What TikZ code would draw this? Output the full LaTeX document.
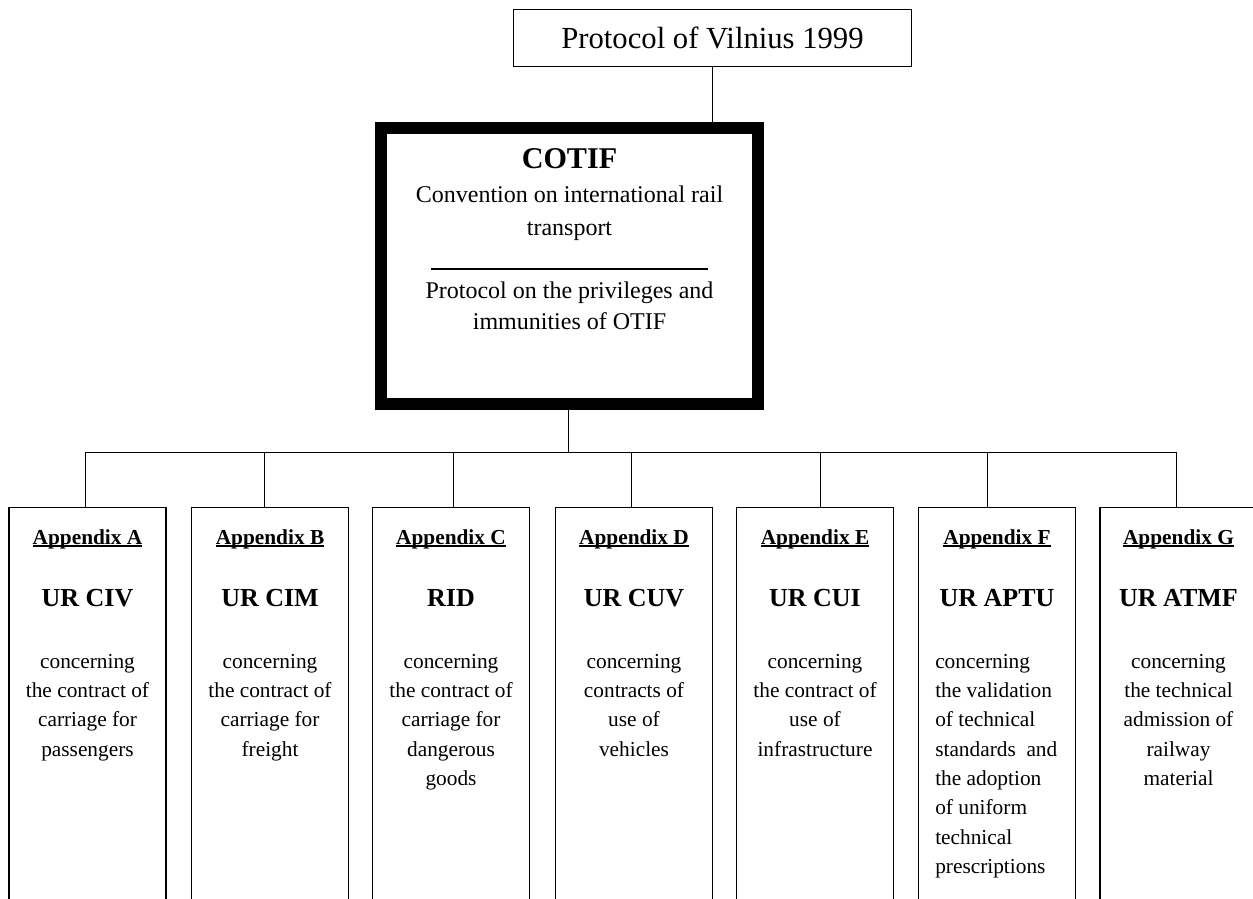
\documentclass[tikz,border=0pt]{standalone}
\usepackage{fontspec}
\setmainfont{Liberation Serif}
\newcommand\ApxUL[1]{\setbox0\hbox{#1}\rlap{\vrule height -0.9pt depth 2.0pt width \wd0}\box0}
\tikzset{
  vilbox/.style={draw, line width=1pt, inner sep=0pt, minimum width=298.3pt, minimum height=42.5pt,
    font=\fontsize{23}{27}\selectfont},
  cotifbox/.style={draw, line width=9pt, inner sep=0pt, minimum width=282.75pt, minimum height=207pt},
  apbox/.style={draw, line width=1.1pt, inner sep=0pt, minimum width=117.7pt, minimum height=315pt, anchor=north},
  conn/.style={line width=1pt},
  apxlbl/.style={anchor=base, inner sep=0pt, font=\bfseries\fontsize{16}{22}\selectfont},
  urlbl/.style={anchor=base, inner sep=0pt, font=\bfseries\fontsize{19.5}{24}\selectfont},
  bodytxt/.style={anchor=base, inner sep=0pt, text width=115pt, align=flush center, font=\fontsize{16}{22}\selectfont},
  bodyleft/.style={anchor=base west, inner sep=0pt, text width=105pt, align=flush left, font=\fontsize{16}{22}\selectfont},
  cotiftxt/.style={anchor=base, inner sep=0pt, text width=260pt, align=flush center},
}
\begin{document}
\begin{tikzpicture}[x=0.75pt, y=-0.75pt]
\useasboundingbox (0,0) rectangle (1253,899);
\clip (0,0) rectangle (1253,899);
\fill[white] (0,0) rectangle (1253,899);

% top box
\node[vilbox] (vil) at (712.5,38) {Protocol of Vilnius 1999};

% COTIF box
\node[cotifbox] (cotif) at (569.5,266) {};
\node[anchor=base, inner sep=0pt, font=\bfseries\fontsize{22.6}{27}\selectfont] (cotifT) at (569.5,168) {COTIF};
\node[cotiftxt, font=\fontsize{18}{24.75}\selectfont] (conv) at (569.5,202) {Convention on international rail\\transport};
\draw[line width=1.1pt] (431,269) -- (708,269);
\node[cotiftxt, font=\fontsize{18}{23.8}\selectfont] (priv) at (569.5,298) {Protocol on the privileges and\\immunities of OTIF};

% appendix boxes
\node[apbox] (apA) at (87.5,507) {};
\node[apbox] (apB) at (270,507) {};
\node[apbox] (apC) at (451,507) {};
\node[apbox] (apD) at (634,507) {};
\node[apbox] (apE) at (815,507) {};
\node[apbox] (apF) at (997,507) {};
\node[apbox] (apG) at (1178.5,507) {};

% connectors
\draw[conn] (vil.south) -- (vil.south |- cotif.north);
\path (cotif.south) ++(-1.2,42.5) coordinate (hub);
\draw[conn] ([xshift=-0.9pt]cotif.south) -- (hub);
\draw[conn] (hub) -| ([xshift=-1.35pt]apA.north);
\draw[conn] (hub) -| ([xshift=-4.3pt]apB.north);
\draw[conn] (hub) -| ([xshift=1.7pt]apC.north);
\draw[conn] (hub) -| ([xshift=-2pt]apD.north);
\draw[conn] (hub) -| ([xshift=4pt]apE.north);
\draw[conn] (hub) -| ([xshift=-7pt]apF.north);
\draw[conn] (hub) -| ([xshift=-1.35pt]apG.north);

% appendix labels
\node[apxlbl] (hA) at (87.5,544) {\ApxUL{Appendix A}};
\node[apxlbl] (hB) at (270,544) {\ApxUL{Appendix B}};
\node[apxlbl] (hC) at (451,544) {\ApxUL{Appendix C}};
\node[apxlbl] (hD) at (634,544) {\ApxUL{Appendix D}};
\node[apxlbl] (hE) at (815,544) {\ApxUL{Appendix E}};
\node[apxlbl] (hF) at (997,544) {\ApxUL{Appendix F}};
\node[apxlbl] (hG) at (1178.5,544) {\ApxUL{Appendix G}};

\node[urlbl] (uA) at (87.5,606) {UR CIV};
\node[urlbl] (uB) at (270,606) {UR CIM};
\node[urlbl] (uC) at (451,606) {RID};
\node[urlbl] (uD) at (634,606) {UR CUV};
\node[urlbl] (uE) at (815,606) {UR CUI};
\node[urlbl] (uF) at (997,606) {UR APTU};
\node[urlbl] (uG) at (1178.5,606) {UR ATMF};

\node[bodytxt] (bA) at (87.5,668) {concerning\\the contract of\\carriage for\\passengers};
\node[bodytxt] (bB) at (270,668) {concerning\\the contract of\\carriage for\\freight};
\node[bodytxt] (bC) at (451,668) {concerning\\the contract of\\carriage for\\dangerous\\goods};
\node[bodytxt] (bD) at (634,668) {concerning\\contracts of\\use of\\vehicles};
\node[bodytxt] (bE) at (815,668) {concerning\\the contract of\\use of\\infrastructure};
\node[bodyleft] (bF) at (935,668) {concerning\\the validation\\of technical\\standards\ \ and\\the adoption\\of uniform\\technical\\prescriptions};
\node[bodytxt] (bG) at (1178.5,668) {concerning\\the technical\\admission of\\railway\\material};
\end{tikzpicture}
\end{document}
